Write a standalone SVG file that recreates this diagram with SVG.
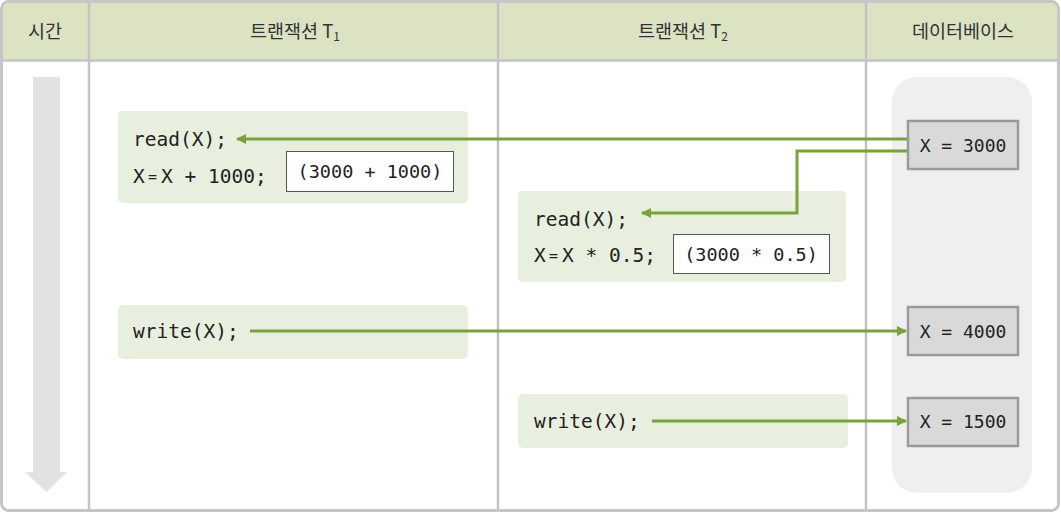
<svg xmlns="http://www.w3.org/2000/svg" width="1061" height="515" viewBox="0 0 1061 515">
<defs>
<style>
.hdr{font-family:"Noto Sans CJK KR","Noto Sans",sans-serif;font-size:18.5px;fill:#333;text-anchor:middle}
.code{font-family:"DejaVu Sans Mono",monospace;font-size:19.5px;fill:#222}
.eq{font-family:"DejaVu Sans Mono",monospace;font-size:15px;fill:#222}
.small{font-family:"DejaVu Sans Mono",monospace;font-size:18.5px;fill:#222;text-anchor:middle}
.val{font-family:"DejaVu Sans Mono",monospace;font-size:18px;fill:#222;text-anchor:middle}
.blk{fill:#e9efdf}
.vbox{fill:#d9d9d9;stroke:#9a9a9a;stroke-width:2.5}
.wbox{fill:#fff;stroke:#555;stroke-width:1}
.conn{fill:none;stroke:#79a33a;stroke-width:3}
.div{stroke:#c4c4c4;stroke-width:2.5}
</style>
<marker id="ah" markerWidth="10" markerHeight="10" refX="9" refY="5" orient="auto" markerUnits="userSpaceOnUse">
<path d="M0,0 L10,5 L0,10 Z" fill="#79a33a"/>
</marker>
</defs>
<g id="frame">
<rect x="1.5" y="1.5" width="1057" height="509" rx="7" fill="#fff" stroke="#c4c4c4" stroke-width="2.5"/>
<path d="M1.5,60 V8.5 a7,7 0 0 1 7,-7 H1051.5 a7,7 0 0 1 7,7 V60 Z" fill="#dbe3c3"/>
<line class="div" x1="1.5" y1="60.5" x2="1058.5" y2="60.5"/>
<line class="div" x1="89" y1="1.5" x2="89" y2="510.5"/>
<line class="div" x1="498" y1="1.5" x2="498" y2="510.5"/>
<line class="div" x1="866" y1="1.5" x2="866" y2="510.5"/>
<rect x="1.5" y="1.5" width="1057" height="509" rx="7" fill="none" stroke="#c4c4c4" stroke-width="2.5"/>
</g>
<g id="headers">
<text class="hdr" x="45" y="38">시간</text>
<text class="hdr" x="295" y="38">트랜잭션 T<tspan font-size="12" dy="3">1</tspan></text>
<text class="hdr" x="683" y="38">트랜잭션 T<tspan font-size="12" dy="3">2</tspan></text>
<text class="hdr" x="963" y="38">데이터베이스</text>
</g>
<g id="time-arrow">
<path d="M33,77 H60 V472 H67 L46.5,492 L25,472 H33 Z" fill="#e2e2e2"/>
</g>
<g id="db-column">
<rect x="892" y="77" width="140" height="416" rx="25" fill="#efefef"/>
</g>
<g id="t1-read">
<rect class="blk" x="118" y="111" width="350" height="92" rx="5"/>
<text class="code" x="133" y="146">read(X);</text>
<text class="code" x="133" y="183">X<tspan class="eq" x="148" y="182">=</tspan><tspan x="161" y="183">X + 1000;</tspan></text>
<rect class="wbox" x="286.5" y="151.5" width="167" height="40"/>
<text class="small" x="370" y="178">(3000 + 1000)</text>
</g>
<g id="t2-read">
<rect class="blk" x="518" y="191" width="328" height="91" rx="5"/>
<text class="code" x="534" y="226">read(X);</text>
<text class="code" x="534" y="262">X<tspan class="eq" x="549" y="261">=</tspan><tspan x="562" y="262">X * 0.5;</tspan></text>
<rect class="wbox" x="673.5" y="234.5" width="156" height="39"/>
<text class="small" x="751" y="261">(3000 * 0.5)</text>
</g>
<g id="t1-write">
<rect class="blk" x="118" y="305" width="350" height="54" rx="5"/>
<text class="code" x="133" y="338">write(X);</text>
</g>
<g id="t2-write">
<rect class="blk" x="518" y="394" width="330" height="54" rx="5"/>
<text class="code" x="534" y="428">write(X);</text>
</g>
<g id="db-3000">
<rect class="vbox" x="908" y="121" width="110" height="48"/>
<text class="val" x="963" y="152">X = 3000</text>
</g>
<g id="db-4000">
<rect class="vbox" x="908" y="307" width="110" height="48"/>
<text class="val" x="963" y="338">X = 4000</text>
</g>
<g id="db-1500">
<rect class="vbox" x="908" y="398" width="110" height="48"/>
<text class="val" x="963" y="428">X = 1500</text>
</g>
<g id="connectors">
<path class="conn" d="M907,139 H237" marker-end="url(#ah)"/>
<path class="conn" d="M907,151 H797 V213 H642" marker-end="url(#ah)"/>
<path class="conn" d="M250,331 H906" marker-end="url(#ah)"/>
<path class="conn" d="M652,421 H906" marker-end="url(#ah)"/>
</g>
</svg>
